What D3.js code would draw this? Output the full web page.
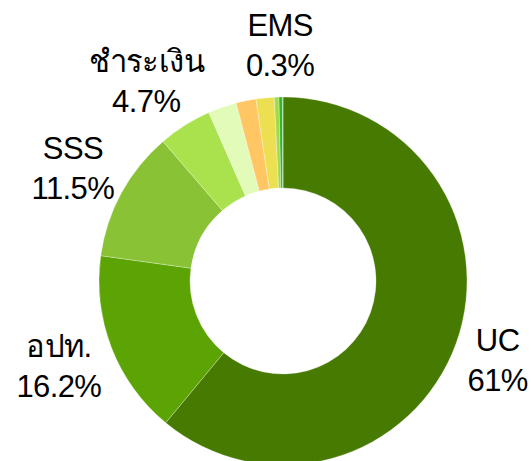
<!DOCTYPE html>
<html>
<head>
<meta charset="utf-8">
<script src="https://cdn.jsdelivr.net/npm/d3@7"></script>
<style>
  html, body { margin: 0; padding: 0; background: #fff; }
  svg { display: block; }
</style>
</head>
<body>
<div id="chart"></div>
<script>
// slice data, clockwise from 12 o'clock
const categories = ["UC", "อปท.", "SSS", "ชำระเงิน", "อื่นๆ 1", "อื่นๆ 2", "อื่นๆ 3", "อื่นๆ 4", "EMS", "อื่นๆ 5"];
const values = [61, 16.2, 11.5, 4.7, 2.5, 1.75, 1.6, 0.4, 0.3, 0.05];
const shown = ["UC", "อปท.", "SSS", "ชำระเงิน", "EMS"];
const colors = ["#467a00", "#5ca304", "#89c234", "#a9e24d", "#e3fbb9", "#ffc663", "#ece052", "#a4d94c", "#2cb530", "#55c247"];

const width = 531, height = 461;
const cx = 283, cy = 281;
const outerR = 184, innerR = 93;
const labelR = 198;

const svg = d3.select("#chart").append("svg")
    .attr("width", width)
    .attr("height", height);

const g = svg.append("g").attr("transform", `translate(${cx},${cy})`);

const data = categories.map((c, i) => ({ name: c, value: values[i], color: colors[i] }));

const pie = d3.pie().sort(null).value(d => d.value);
const arc = d3.arc().innerRadius(innerR).outerRadius(outerR);
const arcs = pie(data);

g.selectAll("path")
    .data(arcs)
    .join("path")
    .attr("d", arc)
    .attr("fill", d => d.data.color)
    .attr("stroke", "#fff")
    .attr("stroke-width", 0.3);

// labels sit just outside the ring, pushed out by half their box
const labels = g.selectAll("g.lbl")
    .data(arcs.filter(d => shown.includes(d.data.name)))
    .join("g")
    .attr("class", "lbl");

labels.append("text")
    .attr("text-anchor", "middle")
    .style("font-family", "'Liberation Sans', 'Noto Sans', sans-serif")
    .style("font-size", "31px")
    .style("letter-spacing", "-0.6px")
    .style("fill", "#000")
    .selectAll("tspan")
    .data(d => [d.data.name, d.data.value + "%"])
    .join("tspan")
    .attr("x", 0)
    .attr("y", (t, i) => i === 0 ? 0 : 40)
    .text(t => t);

labels.each(function(d) {
    const box = this.getBBox();
    const a = (d.startAngle + d.endAngle) / 2;
    const ux = Math.sin(a), uy = -Math.cos(a);
    const px = ux * labelR + ux * box.width / 2;
    const py = uy * labelR + uy * box.height / 2;
    const ox = box.x + box.width / 2, oy = box.y + box.height / 2;
    d3.select(this).attr("transform", `translate(${px - ox},${py - oy})`);
});
</script>
</body>
</html>
